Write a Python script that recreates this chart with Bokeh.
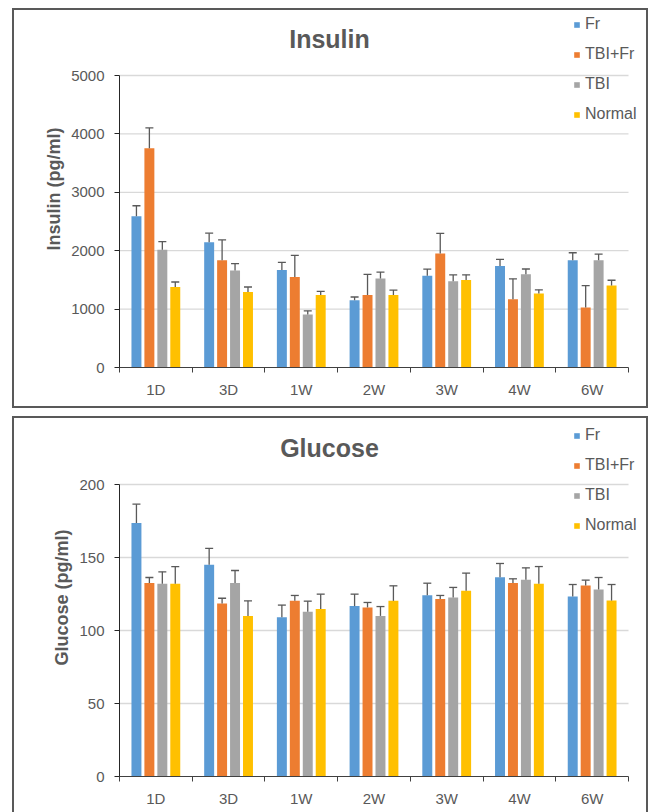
import numpy as np
from bokeh.plotting import figure
from bokeh.models import (ColumnDataSource, Whisker, TeeHead, Legend, LegendItem,
                          FixedTicker, Range1d, Label)
from bokeh.transform import dodge
from bokeh.layouts import column
from bokeh.embed import file_html
from bokeh.resources import INLINE

categories = ["1D", "3D", "1W", "2W", "3W", "4W", "6W"]
series = ["Fr", "TBI+Fr", "TBI", "Normal"]
colors = ["#5B9BD5", "#ED7D31", "#A5A5A5", "#FFC000"]

insulin_fr = [2590, 2145, 1670, 1150, 1570, 1740, 1835]
insulin_fr_err = [180, 155, 130, 57, 115, 112, 130]
insulin_tbifr = [3755, 1835, 1550, 1240, 1953, 1168, 1028]
insulin_tbifr_err = [348, 350, 370, 355, 345, 350, 373]
insulin_tbi = [2018, 1663, 909, 1526, 1476, 1595, 1835]
insulin_tbi_err = [136, 114, 62, 108, 110, 92, 108]
insulin_normal = [1378, 1292, 1241, 1240, 1498, 1265, 1404]
insulin_normal_err = [86, 86, 62, 86, 89, 65, 90]

glucose_fr = [173.7, 145.0, 109.1, 116.7, 124.2, 136.5, 123.3]
glucose_fr_err = [12.8, 11.2, 8.3, 8.2, 8.2, 9.4, 8.2]
glucose_tbifr = [132.6, 118.5, 120.3, 115.8, 121.5, 132.6, 130.8]
glucose_tbifr_err = [3.7, 3.6, 3.7, 3.4, 2.5, 2.8, 3.7]
glucose_tbi = [132.0, 132.6, 112.8, 110.0, 122.6, 134.7, 128.1]
glucose_tbi_err = [8.2, 8.5, 7.3, 6.4, 6.9, 8.2, 8.2]
glucose_normal = [132.0, 110.0, 114.8, 120.3, 127.2, 132.0, 120.5]
glucose_normal_err = [11.8, 10.3, 10.1, 10.3, 12.1, 11.8, 11.0]

insulin_ticks = [0, 1000, 2000, 3000, 4000, 5000]
glucose_ticks = [0, 50, 100, 150, 200]

FONT = "'Liberation Sans', Arial, sans-serif"
TXT = "#595959"


def make_panel(title, ylabel, vals, errs, ticks, height, axis_top, fr_bottom, leg_top, title_y):
    # layout in figure pixels: frame spans from left border to right edge / top edge,
    # axes limited with bounds so the legend and title can live inside the frame
    W = 632
    fl = 105          # y-axis position
    ax_right = 614    # right end of the category axis
    title_x = 315
    ncat = len(categories)
    ppx = (ax_right - fl) / ncat
    ppy = (fr_bottom - axis_top) / (ticks[-1] - ticks[0])
    x0, x1 = 0.5, ncat + 0.5
    x_end = x1 + (W - ax_right) / ppx
    y_end = ticks[0] + fr_bottom / ppy

    p = figure(width=W, height=height, x_range=Range1d(x0, x_end),
               y_range=Range1d(ticks[0], y_end), output_backend="svg",
               toolbar_location=None, min_border_left=fl, min_border_right=0,
               min_border_top=0, min_border_bottom=height - fr_bottom)
    p.outline_line_color = None
    p.background_fill_color = "white"
    p.border_fill_color = "white"

    # gridlines at tick values, limited to the category axis extent
    p.segment(x0=[x0] * (len(ticks) - 1), x1=[x1] * (len(ticks) - 1),
              y0=ticks[1:], y1=ticks[1:], line_color="#d9d9d9", line_width=1.3)

    x = np.arange(1, ncat + 1)
    pitch = 0.178
    bw = 0.137
    items = []
    for i, (v, e) in enumerate(zip(vals, errs)):
        off = (i - 1.5) * pitch
        src = ColumnDataSource(dict(x=x, val=np.array(v, float),
                                    upper=np.array(v, float) + np.array(e, float)))
        r = p.vbar(x=dodge("x", off, range=None), top="val", bottom=0, width=bw,
                   source=src, fill_color=colors[i], line_color=None)
        wh = Whisker(source=src, base=dodge("x", off, range=None), upper="upper", lower="val",
                     line_color="#595959", line_width=1.3,
                     upper_head=TeeHead(size=8, line_color="#595959", line_width=1.3),
                     lower_head=None, level="overlay")
        p.add_layout(wh)
        items.append(LegendItem(label=series[i], renderers=[r]))

    # legend
    lab_h, spc = 20, 10
    leg_h = 4 * lab_h + 3 * spc
    leg = Legend(items=items, location=(559 - fl, fr_bottom - leg_top - leg_h),
                 glyph_width=7, glyph_height=7, label_height=lab_h, spacing=spc,
                 padding=0, margin=0, label_standoff=5,
                 label_text_font=FONT, label_text_font_size="16px", label_text_color=TXT,
                 background_fill_alpha=0, border_line_alpha=0)
    p.add_layout(leg, "center")

    # chart title
    p.add_layout(Label(x=x0 + (title_x - fl) / ppx, y=ticks[0] + (fr_bottom - title_y) / ppy,
                       text=title, text_align="center", text_baseline="middle",
                       text_font=FONT, text_font_size="25px", text_font_style="bold",
                       text_color=TXT))

    # y axis
    ya = p.yaxis[0]
    ya.ticker = FixedTicker(ticks=ticks)
    ya.bounds = (ticks[0], ticks[-1])
    ya.major_tick_out = 5
    ya.major_tick_in = 0
    ya.minor_tick_out = 0
    ya.minor_tick_in = 0
    ya.axis_line_color = "#262626"
    ya.major_tick_line_color = "#262626"
    ya.major_label_text_font = FONT
    ya.major_label_text_font_size = "15px"
    ya.major_label_text_color = TXT
    ya.major_label_standoff = 10
    ya.axis_label = ylabel
    ya.axis_label_text_font = FONT
    ya.axis_label_text_font_size = "18px"
    ya.axis_label_text_font_style = "bold"
    ya.axis_label_text_color = TXT
    ya.axis_label_standoff = 4

    # x axis: labels at centres, tick marks at category boundaries
    xa = p.xaxis[0]
    xa.bounds = (x0, x1)
    xa.ticker = FixedTicker(ticks=list(x), minor_ticks=list(np.arange(x0, x1 + 0.5, 1.0)))
    xa.major_label_overrides = {int(k): c for k, c in zip(x, categories)}
    xa.major_tick_out = 0
    xa.major_tick_in = 0
    xa.minor_tick_out = 5
    xa.minor_tick_in = 0
    xa.minor_tick_line_color = "#404040"
    xa.axis_line_color = "#404040"
    xa.major_label_text_font = FONT
    xa.major_label_text_font_size = "15px"
    xa.major_label_text_color = TXT
    xa.major_label_standoff = 8

    p.xgrid.visible = False
    p.ygrid.visible = False
    return p


p1 = make_panel("Insulin", "Insulin (pg/ml)",
                [insulin_fr, insulin_tbifr, insulin_tbi, insulin_normal],
                [insulin_fr_err, insulin_tbifr_err, insulin_tbi_err, insulin_normal_err],
                insulin_ticks, 396, 65, 357, 4, 28)
p2 = make_panel("Glucose", "Glucose (pg/ml)",
                [glucose_fr, glucose_tbifr, glucose_tbi, glucose_normal],
                [glucose_fr_err, glucose_tbifr_err, glucose_tbi_err, glucose_normal_err],
                glucose_ticks, 394, 66, 358, 7, 29)

w1 = column(p1, styles={"border": "2px solid #595959"}, margin=(8, 0, 0, 12))
w2 = column(p2, styles={"border": "2px solid #595959", "border-bottom": "none"}, margin=(0, 0, 0, 12))
layout = column(w1, w2, spacing=8)

open("out.html", "w").write(file_html(layout, INLINE))
